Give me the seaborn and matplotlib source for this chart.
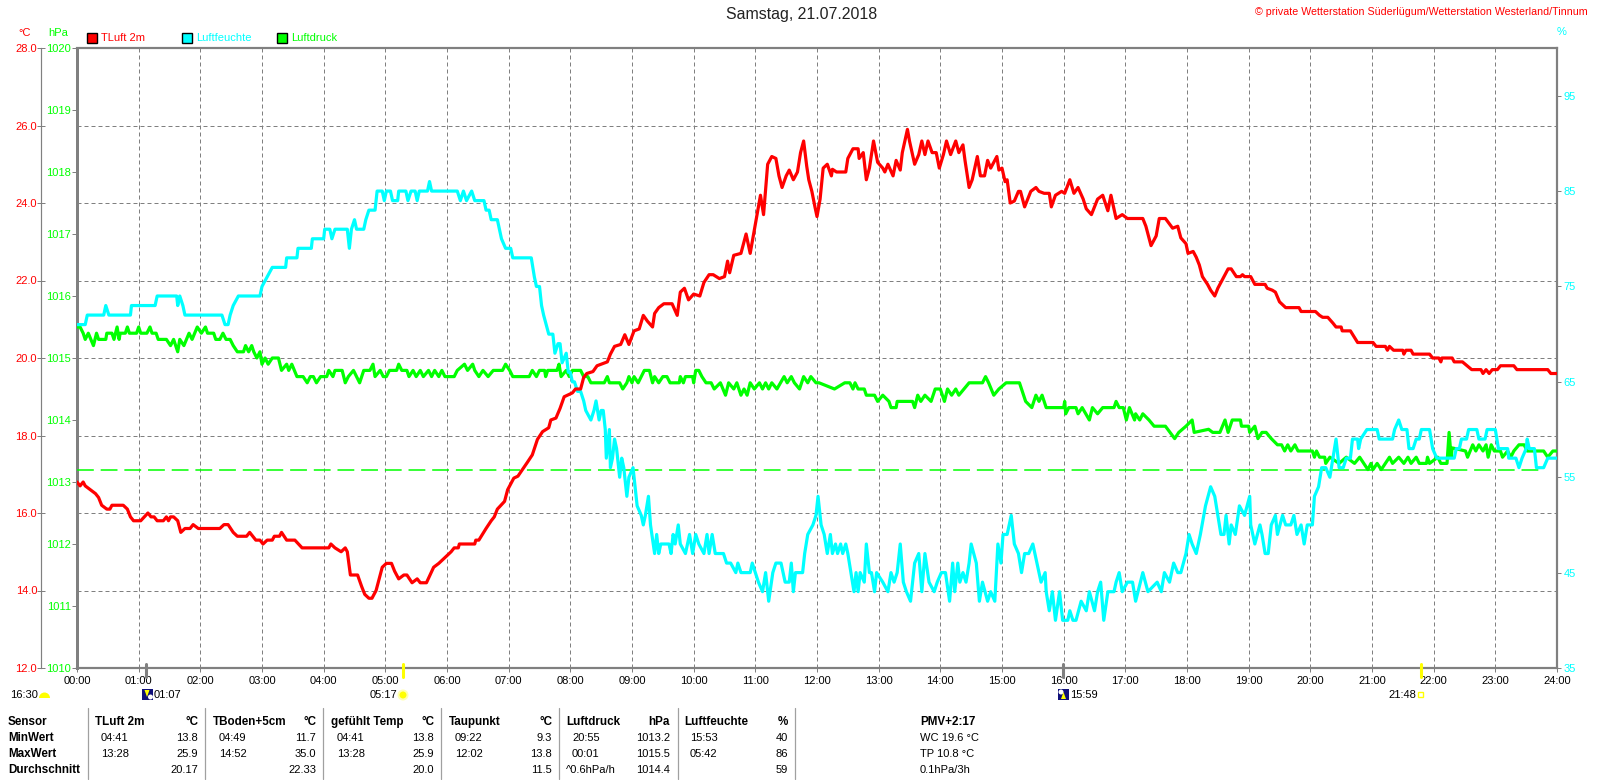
import matplotlib
matplotlib.use('Agg')
import matplotlib.pyplot as plt
import seaborn as sns
from matplotlib.patches import Rectangle, Circle, Wedge, Polygon

# values as (minute of day, value)
temp_points = [
    (0,16.8),(3,16.7),(6,16.8),(8,16.7),(13,16.6),(18,16.5),(21,16.4),(24,16.2),(29,16.1),(32,16.1),(34,16.2),(45,16.2),
    (49,16.1),(52,15.9),(55,15.8),(62,15.8),(69,16.0),(72,15.9),(75,15.9),(78,15.8),(84,15.8),(87,15.9),(89,15.8),(91,15.9),
    (94,15.9),(98,15.8),(101,15.5),(105,15.6),(110,15.6),(113,15.7),(118,15.6),(139,15.6),(143,15.7),(147,15.7),(152,15.5),
    (156,15.4),(165,15.4),(168,15.5),(171,15.4),(174,15.3),(178,15.3),(181,15.2),(185,15.3),(190,15.3),(192,15.4),(197,15.4),
    (199,15.5),(204,15.3),(212,15.3),(219,15.1),(245,15.1),(247,15.2),(251,15.1),(257,15.0),(261,15.1),(263,15.0),(266,14.4),
    (273,14.4),(277,14.1),(280,13.9),(284,13.8),(287,13.8),(291,14.0),(294,14.3),(297,14.6),(301,14.7),(306,14.7),(309,14.5),
    (313,14.3),(318,14.4),(321,14.4),(326,14.2),(331,14.3),(334,14.2),(340,14.2),(347,14.6),(352,14.7),(356,14.8),
    (364,15.0),(367,15.1),(371,15.1),(372,15.2),(387,15.2),(388,15.3),(391,15.3),(398,15.6),(403,15.8),(406,15.9),(409,16.1),
    (416,16.3),(419,16.6),(425,16.9),(429,16.95),(438,17.3),(443,17.5),(448,17.9),(453,18.1),(459,18.2),(461,18.4),(466,18.45),
    (470,18.7),(474,19.0),(482,19.1),(485,19.2),(490,19.2),(493,19.5),(496,19.6),(502,19.65),(506,19.8),(516,19.9),(519,20.1),
    (523,20.3),(529,20.35),(533,20.6),(537,20.35),(542,20.7),(547,20.75),(551,21.1),(555,20.95),(560,20.8),(562,21.15),(566,21.3),
    (571,21.4),(579,21.4),(584,21.1),(587,21.7),(591,21.8),(595,21.5),(600,21.65),(606,21.6),(610,21.95),(615,22.15),(619,22.15),
    (625,22.05),(630,22.1),(633,22.5),(635,22.2),(639,22.65),(646,22.7),(651,23.2),(655,22.7),(660,23.45),(665,24.2),(668,23.7),
    (672,25.0),(676,25.2),(680,25.15),(683,24.7),(686,24.4),(690,24.7),(693,24.85),(697,24.6),(701,24.8),(704,25.3),(707,25.6),
    (710,24.95),(712,24.6),(715,24.3),(718,23.9),(720,23.65),(723,24.1),(726,24.9),(730,25.0),(734,24.7),(735,24.87),(739,24.8),
    (748,24.8),(750,25.15),(755,25.4),(760,25.4),(761,25.15),(765,25.3),(768,24.6),(771,24.9),(775,25.6),(779,25.05),(784,24.9),
    (786,24.8),(789,25.0),(794,24.7),(797,25.1),(801,24.85),(803,25.3),(808,25.9),(810,25.6),(815,25.0),(819,25.25),(822,25.6),
    (825,25.25),(828,25.6),(832,25.3),(836,25.3),(839,24.9),(843,25.25),(846,25.6),(850,25.25),(855,25.6),(858,25.3),(862,25.5),
    (864,25.1),(868,24.4),(871,24.6),(876,25.2),(879,24.7),(883,24.7),(886,25.1),(889,24.9),(895,25.2),(897,24.85),(900,24.9),
    (903,24.55),(905,24.6),(908,24.0),(912,24.05),(916,24.3),(918,24.3),(922,23.9),(928,24.3),(933,24.4),(936,24.3),(941,24.25),
    (946,24.25),(948,23.9),(952,24.2),(958,24.3),(961,24.25),(966,24.6),(970,24.25),(974,24.4),(979,24.1),(982,23.85),(987,23.7),
    (993,24.1),(998,24.2),(1003,23.8),(1006,24.2),(1011,23.6),(1017,23.7),(1022,23.6),(1037,23.6),(1040,23.4),(1045,22.9),
    (1050,23.15),(1053,23.6),(1059,23.6),(1066,23.35),(1071,23.4),(1074,23.1),(1079,22.95),(1081,22.7),(1086,22.75),(1089,22.6),
    (1092,22.4),(1095,22.1),(1100,21.9),(1103,21.75),(1107,21.6),(1110,21.8),(1115,22.05),(1120,22.3),(1123,22.3),(1128,22.1),
    (1132,22.1),(1134,22.15),(1136,22.1),(1142,22.1),(1146,21.9),(1156,21.9),(1158,21.8),(1163,21.75),(1166,21.7),(1170,21.45),
    (1176,21.3),(1189,21.3),(1191,21.2),(1205,21.2),(1209,21.1),(1212,21.05),(1217,21.05),(1222,20.9),(1225,20.8),(1230,20.8),
    (1231,20.7),(1239,20.7),(1246,20.4),(1261,20.4),(1264,20.3),(1273,20.3),(1275,20.2),(1277,20.3),(1281,20.2),(1290,20.2),
    (1291,20.1),(1293,20.2),(1298,20.2),(1300,20.1),(1316,20.1),(1319,20.0),(1325,20.0),(1327,19.9),(1328,20.0),(1338,20.0),
    (1340,19.9),(1348,19.9),(1357,19.7),(1366,19.7),(1368,19.6),(1371,19.7),(1374,19.6),(1377,19.7),(1382,19.7),(1385,19.8),
    (1398,19.8),(1401,19.7),(1431,19.7),(1434,19.6),(1440,19.6),
]

hum_points = [
    (0,71),(8,71),(10,72),(26,72),(28,73),(31,72),(52,72),(53,73),(76,73),(78,74),(97,74),(98,73),(100,74),(103,73),(105,72),
    (141,72),(144,71),(147,71),(149,72),(152,73),(157,74),(178,74),(180,75),(185,76),(190,77),(203,77),(204,78),(214,78),(215,79),
    (228,79),(229,80),(240,80),(241,81),(246,81),(248,80),(251,81),(263,81),(265,79),(267,81),(270,82),(272,81),(279,81),(281,82),
    (284,83),(290,83),(292,85),(297,85),(299,84),(301,85),(305,85),(307,84),(312,84),(313,85),(320,85),(322,84),(325,85),(329,85),
    (331,84),(333,85),(341,85),(343,86),(345,85),(370,85),(373,84),(376,85),(379,84),(384,85),(387,84),(396,84),(398,83),(401,83),
    (403,82),(409,82),(411,81),(413,80),(417,79),(422,79),(424,78),(442,78),(445,76),(447,75),(450,75),(452,73),(454,72),(459,70),
    (463,70),(465,68),(468,69),(470,69),(472,67),(476,68),(478,66),(480,66),(482,65),(484,65),(487,64),(490,64),(493,63),(495,62),
    (500,61),(503,62),(505,63),(508,61),(510,62),(512,62),(514,60),(515,57),(518,60),(519,56),(521,57),(523,59),(525,58),(528,55),
    (530,57),(532,56),(535,53),(537,55),(541,56),(543,54),(545,52),(549,51),(551,50),(553,51),(556,53),(558,50),(562,47),(564,49),
    (566,47),(568,48),(576,48),(578,47),(580,49),(582,48),(585,50),(587,48),(592,47),(596,49),(599,47),(602,49),(605,48),(610,47),
    (613,49),(615,47),(618,49),(621,47),(626,47),(629,47),(632,46),(636,46),(641,45),(643,46),(646,45),(651,45),(655,45),(657,46),
    (660,45),(663,44),(667,43),(670,45),(673,42),(677,45),(680,46),(685,46),(689,44),(693,44),(695,46),(697,43),(699,45),(706,45),
    (708,47),(711,49),(716,50),(719,51),(721,53),(724,50),(727,49),(730,47),(733,49),(735,47),(738,48),(740,47),(743,48),(745,47),
    (748,48),(750,47),(753,45),(756,43),(758,45),(760,43),(762,45),(766,44),(768,48),(771,45),(773,45),(776,43),(778,45),(784,44),
    (789,43),(792,45),(795,44),(798,45),(801,48),(804,44),(807,43),(811,42),(815,46),(819,47),(822,43),(825,47),(829,44),(834,43),
    (837,44),(841,45),(845,45),(849,42),(852,46),(854,43),(857,46),(859,44),(862,45),(865,44),(868,46),(870,48),(875,46),(878,42),
    (881,44),(886,42),(889,43),(893,42),(896,48),(899,46),(901,49),(905,49),(909,51),(912,48),(916,47),(919,45),(922,47),(926,47),
    (930,48),(934,46),(938,44),(942,45),(943,43),(946,41),(949,43),(952,40),(956,43),(959,40),(964,40),(966,41),(969,40),(972,40),
    (977,42),(982,41),(985,43),(990,41),(993,43),(996,44),(999,40),(1003,43),(1009,43),(1011,44),(1014,45),(1017,43),(1022,44),
    (1027,44),(1030,42),(1037,45),(1042,43),(1051,44),(1055,43),(1058,45),(1063,44),(1067,46),(1071,45),(1074,45),(1079,47),
    (1082,49),(1085,48),(1089,47),(1093,49),(1098,52),(1103,54),(1107,53),(1110,51),(1113,49),(1116,49),(1118,51),(1121,48),
    (1123,50),(1127,49),(1131,52),(1136,51),(1141,53),(1142,50),(1146,48),(1151,50),(1153,49),(1156,47),(1159,47),(1162,50),
    (1166,51),(1168,49),(1173,51),(1176,50),(1181,50),(1184,51),(1187,49),(1191,50),(1194,48),(1197,50),(1202,50),(1204,53),
    (1208,54),(1211,56),(1215,56),(1219,55),(1222,57),(1225,59),(1228,56),(1232,56),(1235,57),(1239,57),(1241,59),(1246,59),
    (1247,58),(1249,59),(1255,60),(1265,60),(1267,59),(1280,59),(1282,60),(1286,61),(1289,60),(1294,60),(1296,58),(1300,58),
    (1303,59),(1306,59),(1308,60),(1316,60),(1319,58),(1323,57),(1340,57),(1342,58),(1345,58),(1347,59),(1352,59),(1354,60),
    (1362,60),(1364,59),(1370,59),(1372,60),(1380,60),(1383,58),(1392,58),(1393,57),(1400,57),(1403,56),(1406,57),(1410,58),
    (1411,59),(1413,58),(1418,58),(1420,56),(1427,56),(1431,57),(1440,57),
]

pres_points = [
    (0,1015.5),(3,1015.5),(6,1015.4),(8,1015.3),(11,1015.4),(16,1015.2),(19,1015.4),(21,1015.3),(28,1015.3),(29,1015.4),(34,1015.4),
    (36,1015.3),(39,1015.5),(41,1015.3),(42,1015.4),(47,1015.4),(49,1015.5),(51,1015.4),(58,1015.4),(60,1015.5),(62,1015.4),(68,1015.4),
    (71,1015.5),(73,1015.4),(77,1015.4),(79,1015.3),(87,1015.3),(91,1015.2),(94,1015.3),(98,1015.1),(100,1015.3),(104,1015.2),
    (109,1015.4),(112,1015.3),(117,1015.5),(121,1015.4),(125,1015.5),(127,1015.4),(133,1015.4),(135,1015.3),(139,1015.3),(142,1015.4),
    (145,1015.3),(149,1015.3),(152,1015.2),(156,1015.1),(162,1015.1),(164,1015.2),(167,1015.1),(170,1015.2),(172,1015.1),(175,1015.0),
    (178,1015.1),(180,1014.9),(183,1015.0),(186,1014.9),(190,1015.0),(196,1015.0),(199,1014.8),(204,1014.9),(206,1014.8),(209,1014.9),
    (214,1014.7),(220,1014.7),(224,1014.6),(227,1014.7),(230,1014.7),(233,1014.6),(237,1014.7),(243,1014.7),(245,1014.8),(249,1014.7),
    (251,1014.8),(258,1014.8),(261,1014.6),(264,1014.7),(269,1014.8),(272,1014.7),(275,1014.6),(279,1014.8),(285,1014.8),(288,1014.9),
    (290,1014.7),(295,1014.8),(298,1014.7),(301,1014.7),(304,1014.8),(311,1014.8),(313,1014.9),(316,1014.8),(321,1014.8),(323,1014.7),
    (327,1014.8),(330,1014.7),(334,1014.8),(337,1014.7),(342,1014.8),(345,1014.7),(348,1014.8),(352,1014.7),(355,1014.8),(358,1014.7),
    (367,1014.7),(370,1014.8),(377,1014.9),(380,1014.8),(385,1014.9),(387,1014.8),(391,1014.7),(395,1014.8),(400,1014.7),(405,1014.8),
    (414,1014.8),(417,1014.9),(421,1014.8),(424,1014.7),(435,1014.7),(440,1014.7),(443,1014.8),(447,1014.7),(450,1014.8),(455,1014.8),
    (456,1014.7),(458,1014.8),(467,1014.8),(469,1014.9),(471,1014.7),(476,1014.8),(479,1014.7),(482,1014.8),(490,1014.8),(493,1014.7),
    (497,1014.7),(500,1014.6),(513,1014.6),(516,1014.7),(518,1014.6),(528,1014.6),(531,1014.5),(535,1014.6),(537,1014.7),(540,1014.6),
    (542,1014.7),(546,1014.6),(552,1014.8),(557,1014.8),(560,1014.6),(562,1014.7),(566,1014.6),(570,1014.7),(574,1014.7),(577,1014.6),
    (586,1014.6),(587,1014.7),(590,1014.6),(592,1014.7),(599,1014.7),(600,1014.6),(602,1014.8),(605,1014.8),(608,1014.7),(612,1014.6),
    (617,1014.6),(620,1014.5),(626,1014.6),(631,1014.4),(634,1014.6),(639,1014.5),(642,1014.6),(646,1014.4),(649,1014.5),(652,1014.4),
    (655,1014.6),(659,1014.5),(664,1014.6),(667,1014.5),(670,1014.6),(673,1014.5),(676,1014.6),(681,1014.5),(688,1014.7),(691,1014.6),
    (695,1014.7),(698,1014.6),(703,1014.5),(707,1014.7),(711,1014.6),(714,1014.7),(719,1014.6),(722,1014.6),(737,1014.5),(747,1014.6),
    (752,1014.6),(755,1014.5),(757,1014.6),(760,1014.5),(766,1014.5),(768,1014.4),(776,1014.4),(779,1014.3),(784,1014.4),(790,1014.3),
    (792,1014.2),(797,1014.2),(798,1014.3),(813,1014.3),(815,1014.2),(818,1014.4),(821,1014.3),(825,1014.4),(831,1014.3),(835,1014.5),
    (840,1014.5),(844,1014.3),(847,1014.5),(851,1014.4),(855,1014.5),(858,1014.4),(863,1014.5),(868,1014.6),(881,1014.6),(884,1014.7),
    (887,1014.6),(892,1014.4),(897,1014.5),(904,1014.6),(917,1014.6),(919,1014.5),(923,1014.3),(929,1014.2),(933,1014.4),(936,1014.3),
    (939,1014.4),(943,1014.2),(949,1014.2),(960,1014.2),(961,1014.3),(962,1014.1),(965,1014.2),(972,1014.2),(974,1014.1),(978,1014.2),
    (985,1014.0),(988,1014.2),(993,1014.1),(998,1014.2),(1009,1014.2),(1011,1014.3),(1014,1014.2),(1018,1014.2),(1021,1014.0),
    (1024,1014.2),(1029,1014.0),(1030,1014.1),(1034,1014.0),(1037,1014.1),(1043,1014.0),(1048,1013.9),(1059,1013.9),(1068,1013.7),
    (1072,1013.8),(1079,1013.9),(1085,1014.0),(1087,1013.8),(1101,1013.85),(1105,1013.8),(1112,1013.8),(1117,1014.0),(1120,1013.8),
    (1124,1014.0),(1132,1014.0),(1133,1013.9),(1140,1013.9),(1141,1013.8),(1146,1013.9),(1149,1013.7),(1153,1013.8),(1157,1013.8),
    (1162,1013.7),(1168,1013.6),(1172,1013.6),(1175,1013.5),(1178,1013.6),(1181,1013.5),(1185,1013.6),(1188,1013.5),(1202,1013.5),
    (1204,1013.4),(1206,1013.5),(1209,1013.4),(1214,1013.4),(1215,1013.3),(1219,1013.4),(1228,1013.3),(1235,1013.4),(1243,1013.3),
    (1248,1013.4),(1252,1013.3),(1256,1013.2),(1259,1013.3),(1261,1013.2),(1265,1013.3),(1269,1013.2),(1273,1013.3),(1277,1013.4),
    (1280,1013.3),(1286,1013.4),(1291,1013.3),(1295,1013.4),(1298,1013.3),(1303,1013.4),(1306,1013.3),(1313,1013.3),(1314,1013.4),
    (1316,1013.3),(1324,1013.4),(1327,1013.3),(1333,1013.3),(1335,1013.8),(1337,1013.4),(1338,1013.55),(1351,1013.5),(1353,1013.4),
    (1358,1013.6),(1361,1013.5),(1364,1013.6),(1368,1013.5),(1371,1013.6),(1373,1013.4),(1376,1013.6),(1379,1013.5),(1385,1013.5),
    (1387,1013.4),(1392,1013.5),(1395,1013.4),(1398,1013.5),(1403,1013.6),(1408,1013.6),(1411,1013.5),(1427,1013.5),(1431,1013.4),
    (1436,1013.5),(1440,1013.5),
]

hour_labels = [f'{h:02d}:00' for h in range(25)]
temp_ticks = [12, 14, 16, 18, 20, 22, 24, 26, 28]
pres_ticks = list(range(1010, 1021))
hum_ticks = [35, 45, 55, 65, 75, 85, 95]
pres_ref = 1013.2

# sun / moon events: minute, colour
event_min = [67, 317, 959, 1308]
event_col = ['#808080', '#ffff00', '#808080', '#ffff00']

table_x = [88, 205, 323, 441, 559, 678, 795]
row_names = ['Sensor', 'MinWert', 'MaxWert', 'Durchschnitt']
sensors = ['TLuft 2m', 'TBoden+5cm', 'gefühlt Temp', 'Taupunkt', 'Luftdruck', 'Luftfeuchte']
units = ['°C', '°C', '°C', '°C', 'hPa', '%']
min_times = ['04:41', '04:49', '04:41', '09:22', '20:55', '15:53']
min_vals = ['13.8', '11.7', '13.8', '9.3', '1013.2', '40']
max_times = ['13:28', '14:52', '13:28', '12:02', '00:01', '05:42']
max_vals = ['25.9', '35.0', '25.9', '13.8', '1015.5', '86']
avg_vals = ['20.17', '22.33', '20.0', '11.5', '1014.4', '59']
pmv_lines = ['PMV+2:17', 'WC 19.6 °C', 'TP 10.8 °C', '0.1hPa/3h']

RED, CYAN, GREEN, GRAY = '#ff0000', '#00ffff', '#00ff00', '#808080'
W, H = 1600, 780
L, R, T, B = 77, 1557, 48, 668
FS = 8.0
FS_BOLD = 8.4
px = 0.72  # points per pixel at dpi 100

sns.set_theme(style='white')
plt.rcParams['font.family'] = ['Liberation Sans', 'DejaVu Sans']

fig = plt.figure(figsize=(16, 7.8), dpi=100)
ax = fig.add_axes([L / W, 1 - B / H, (R - L) / W, (B - T) / H])
ax_p = ax.twinx()
ax_h = ax.twinx()
ax_t = ax.twinx()
for i, a in enumerate([ax, ax_p, ax_h, ax_t]):
    a.set_zorder(i)
    if i:
        a.patch.set_visible(False)
        for s in a.spines.values():
            s.set_visible(False)

temp_min, temp_val = zip(*temp_points)
hum_min, hum_val = zip(*hum_points)
pres_min, pres_val = zip(*pres_points)

sns.lineplot(x=list(pres_min), y=list(pres_val), ax=ax_p, color=GREEN, lw=2.3, estimator=None)
sns.lineplot(x=list(hum_min), y=list(hum_val), ax=ax_h, color=CYAN, lw=2.3, estimator=None)
sns.lineplot(x=list(temp_min), y=list(temp_val), ax=ax_t, color=RED, lw=2.3, estimator=None)
ax_p.plot([0, 1423], [pres_ref, pres_ref], color=GREEN, lw=1.1, ls=(0, (11, 4.5)), zorder=1)

ax.set_xlim(0, 1440)
ax.set_ylim(12, 28)
ax_t.set_ylim(12, 28)
ax_p.set_ylim(1010, 1020)
ax_h.set_ylim(35, 100)

# grid and frame
ax.set_xticks(range(0, 1441, 60))
ax.set_xticklabels(hour_labels, fontsize=FS, color='black')
ax.set_yticks(temp_ticks)
ax.set_yticklabels([])
ax.grid(True, color=GRAY, lw=1.0 * px, ls=(0, (4, 3)))
ax.tick_params(axis='x', length=4 * px, width=1 * px, color=GRAY, pad=3, bottom=True)
ax.tick_params(axis='y', left=False)
for s in ax.spines.values():
    s.set_color(GRAY)
    s.set_linewidth(2.2 * px)
ax.spines['left'].set_linewidth(3 * px)

# temperature axis, set out to the left
ax_t.yaxis.tick_left()
ax_t.spines['left'].set_visible(True)
ax_t.spines['left'].set_position(('outward', 36.5 * px))
ax_t.spines['left'].set_color(GRAY)
ax_t.spines['left'].set_linewidth(1.2 * px)
ax_t.set_yticks(temp_ticks)
ax_t.set_yticklabels([f'{v:.1f}' for v in temp_ticks], fontsize=FS, color=RED)
ax_t.tick_params(axis='y', direction='inout', length=8 * px, width=1 * px, color=GRAY, pad=-0.5, left=True, right=False)

ax_p.yaxis.tick_left()
ax_p.set_yticks(pres_ticks)
ax_p.set_yticklabels(pres_ticks, fontsize=FS, color=GREEN)
ax_p.tick_params(axis='y', length=5 * px, width=1 * px, color=GRAY, pad=0.5, left=True, right=False)

ax_h.yaxis.tick_right()
ax_h.set_yticks(hum_ticks)
ax_h.set_yticklabels(hum_ticks, fontsize=FS, color=CYAN)
ax_h.tick_params(axis='y', length=4 * px, width=1 * px, color=GRAY, pad=2, right=True, left=False)
for a in [ax_t, ax_p, ax_h]:
    a.set_xlabel('')
    a.set_ylabel('')


def put(x, y, s, color='black', ha='left', size=FS, weight='normal'):
    fig.text(x / W, 1 - y / H, s, color=color, ha=ha, va='center', fontsize=size, fontweight=weight)


def box(x, y, w, h, **kw):
    fig.add_artist(Rectangle((x / W, 1 - (y + h) / H), w / W, h / H, transform=fig.transFigure, **kw))


def dot(x, y, r, color):
    # transform=None means display pixels, so the icon stays round
    fig.add_artist(Circle((x, H - y), r, transform=None, color=color, lw=0))


put(802, 15, 'Samstag, 21.07.2018', color='#222222', ha='center', size=11.4)
put(1588, 12, '© private Wetterstation Süderlügum/Wetterstation Westerland/Tinnum', color=RED, ha='right', size=7.7)
put(25, 33, '°C', color=RED, ha='center')
put(58, 33, 'hPa', color=GREEN, ha='center')
put(1562, 32, '%', color=CYAN, ha='center')

for x0, name, col in zip([87, 182, 277], ['TLuft 2m', 'Luftfeuchte', 'Luftdruck'], [RED, CYAN, GREEN]):
    box(x0, 33, 10, 10, facecolor=col, edgecolor='black', lw=1)
    put(x0 + 14, 38, name, color=col)

# sunrise, sunset, moon marks below the time axis
for m, col in zip(event_min, event_col):
    ax.plot([m, m], [11.77, 12.1], color=col, lw=2.2, clip_on=False, zorder=5)

row_icons = 695
put(10, row_icons, '16:30')
fig.add_artist(Wedge((44.5, H - 698), 5.5, 0, 180, transform=None, color='#ffff00', lw=0))

box(142, 689, 11, 11, facecolor='#10107a', edgecolor='none')
dot(150.5, 697, 2.5, 'white')
fig.add_artist(Polygon([(144.5, H - 690), (149.5, H - 690), (147, H - 697)], transform=None, color='#ffff00', lw=0))
put(154, row_icons, '01:07')

box(1058, 689, 11, 11, facecolor='#10107a', edgecolor='none')
dot(1061, 692, 2.5, 'white')
fig.add_artist(Polygon([(1061, H - 699), (1066, H - 699), (1063.5, H - 692)], transform=None, color='#ffff00', lw=0))
put(1070, row_icons, '15:59')

put(370, row_icons, '05:17')
dot(403, 695, 5.5, '#ffffb0')
dot(403, 695, 3.5, '#ffff00')
put(1388, row_icons, '21:48')
box(1418, 692, 5, 5, facecolor='white', edgecolor='#ffff00', lw=1)

# table under the chart
for x0 in table_x:
    fig.add_artist(plt.Line2D([x0 / W, x0 / W], [1 - 708 / H, 1 - 779 / H], color='#a0a0a0', lw=0.9, transform=fig.transFigure))
rows_y = [722, 738, 754, 770]
for y0, name in zip(rows_y, row_names):
    put(8, y0, name, weight='bold', size=FS_BOLD)
col_left = [95, 213, 331, 449, 566, 684]
col_right = [198, 316, 434, 552, 670, 788]
for i in range(6):
    put(col_left[i], rows_y[0], sensors[i], weight='bold', size=FS_BOLD)
    put(col_right[i], rows_y[0], units[i], ha='right', weight='bold', size=FS_BOLD)
    put(col_left[i] + 6, rows_y[1], min_times[i])
    put(col_right[i], rows_y[1], min_vals[i], ha='right')
    put(col_left[i] + 6, rows_y[2], max_times[i])
    put(col_right[i], rows_y[2], max_vals[i], ha='right')
    put(col_right[i], rows_y[3], avg_vals[i], ha='right')
put(566, rows_y[3], '^0.6hPa/h')
for y0, s, w in zip(rows_y, pmv_lines, ['bold', 'normal', 'normal', 'normal']):
    put(920, y0, s, weight=w, size=FS_BOLD if w == 'bold' else FS)

fig.savefig('out.png', dpi=100)
